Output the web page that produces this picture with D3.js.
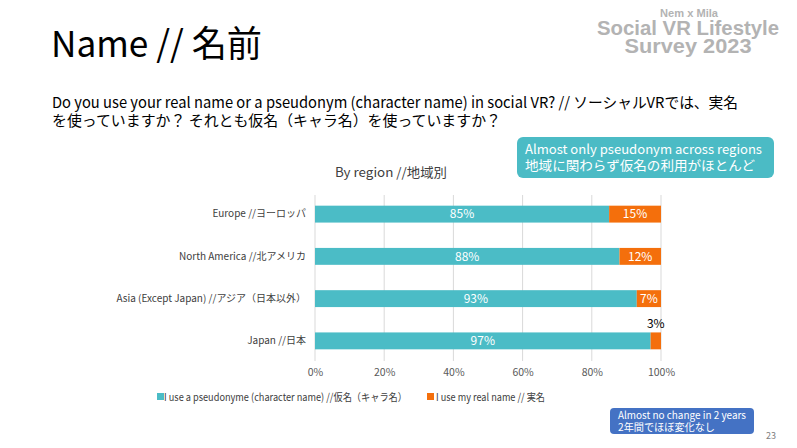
<!DOCTYPE html>
<html><head><meta charset="utf-8">
<script src="https://cdn.jsdelivr.net/npm/d3@7"></script>
<style>
html,body{margin:0;padding:0;background:#fff;}
svg{display:block;}
text{font-family:"Noto Sans CJK JP","Noto Sans",sans-serif;}
text.logo{font-family:"Liberation Sans","DejaVu Sans",sans-serif;font-weight:bold;}
</style></head>
<body>
<svg id="c" width="797" height="448"></svg>
<script>
const categories = ["Europe //ヨーロッパ","North America //北アメリカ","Asia (Except Japan) //アジア（日本以外）","Japan //日本"];
const pseudonym = [85, 88, 93, 97];
const realName = [15, 12, 7, 3];
const seriesNames = ["I use a pseudonyme (character name) //仮名（キャラ名）","I use my real name // 実名"];
const xTicks = [0, 20, 40, 60, 80, 100];
const colors = ["#4BBCC6", "#F46F0C"];

const svg = d3.select("#c");

// Logo
const logo = svg.append("g").attr("fill","#b3b3b3").attr("text-anchor","middle");
logo.append("text").attr("class","logo").attr("x",689).attr("y",17).attr("font-size",11).attr("textLength",58).attr("lengthAdjust","spacingAndGlyphs").text("Nem x Mila");
logo.append("text").attr("class","logo").attr("x",688).attr("y",35).attr("font-size",20).attr("textLength",182).attr("lengthAdjust","spacingAndGlyphs").text("Social VR Lifestyle");
logo.append("text").attr("class","logo").attr("x",688).attr("y",53).attr("font-size",20).attr("textLength",127).attr("lengthAdjust","spacingAndGlyphs").text("Survey 2023");

// Title
svg.append("text").attr("x",51).attr("y",57).attr("font-size",36).attr("fill","#000")
  .attr("textLength",211).attr("lengthAdjust","spacingAndGlyphs").text("Name // 名前");

// Question
svg.append("text").attr("x",52).attr("y",108).attr("font-size",15).attr("fill","#000")
  .attr("textLength",686).attr("lengthAdjust","spacingAndGlyphs")
  .text("Do you use your real name or a pseudonym (character name) in social VR? // ソーシャルVRでは、実名");
svg.append("text").attr("x",52).attr("y",126).attr("font-size",15).attr("fill","#000")
  .attr("textLength",449).attr("lengthAdjust","spacingAndGlyphs")
  .text("を使っていますか？ それとも仮名（キャラ名）を使っていますか？");

// Subtitle
svg.append("text").attr("x",335).attr("y",177).attr("font-size",13).attr("fill","#404040")
  .attr("textLength",112).attr("lengthAdjust","spacingAndGlyphs").text("By region //地域別");

// Callout teal
svg.append("rect").attr("x",517).attr("y",137).attr("width",257).attr("height",41).attr("rx",6).attr("fill","#4BBBC5");
svg.append("text").attr("x",525).attr("y",154).attr("font-size",13).attr("fill","#fff")
  .attr("textLength",237).attr("lengthAdjust","spacingAndGlyphs").text("Almost only pseudonym across regions");
svg.append("text").attr("x",525).attr("y",170).attr("font-size",13).attr("fill","#fff")
  .attr("textLength",230).attr("lengthAdjust","spacingAndGlyphs").text("地域に関わらず仮名の利用がほとんど");

// Chart
const x = d3.scaleLinear().domain([0,100]).range([315,661]);
const y = d3.scaleBand().domain(categories).range([193,362]).paddingInner(0.6).paddingOuter(0.3);

svg.append("g").selectAll("line").data(xTicks).join("line")
  .attr("x1",d=>x(d)).attr("x2",d=>x(d)).attr("y1",195).attr("y2",361)
  .attr("stroke","#d9d9d9").attr("stroke-width",1);

const xAxis = svg.append("g").attr("transform","translate(0,369)")
  .call(d3.axisBottom(x).tickValues(xTicks).tickFormat(d=>d+"%").tickSize(0).tickPadding(0));
xAxis.select(".domain").remove();
xAxis.selectAll("text").attr("font-size",10.5).attr("fill","#595959").attr("dy","0.71em")
  .style("font-family","'Noto Sans CJK JP',sans-serif");

const yAxis = svg.append("g").attr("transform","translate(306,0)")
  .call(d3.axisLeft(y).tickSize(0).tickPadding(0));
yAxis.select(".domain").remove();
yAxis.selectAll("text").attr("font-size",10).attr("fill","#404040")
  .style("font-family","'Noto Sans CJK JP',sans-serif");

const rows = categories.map((c,i)=>({c, a:pseudonym[i], b:realName[i]}));
const g = svg.append("g");
g.selectAll("rect.a").data(rows).join("rect").attr("class","a")
  .attr("x",x(0)).attr("y",d=>y(d.c)).attr("width",d=>x(d.a)-x(0)).attr("height",y.bandwidth()).attr("fill",colors[0]);
g.selectAll("rect.b").data(rows).join("rect").attr("class","b")
  .attr("x",d=>x(d.a)).attr("y",d=>y(d.c)).attr("width",d=>x(d.a+d.b)-x(d.a)).attr("height",y.bandwidth()).attr("fill",colors[1]);

g.selectAll("text.la").data(rows).join("text").attr("class","la")
  .attr("x",d=>x(d.a/2)).attr("y",d=>y(d.c)+y.bandwidth()/2).attr("dy","0.36em")
  .attr("text-anchor","middle").attr("font-size",12).attr("fill","#fff").text(d=>d.a+"%");
g.selectAll("text.lb").data(rows).join("text").attr("class","lb")
  .attr("x",d=>x(d.a+d.b/2)).attr("y",d=> d.b>=5 ? y(d.c)+y.bandwidth()/2 : y(d.c)-9)
  .attr("dy","0.36em").attr("text-anchor","middle").attr("font-size",12)
  .attr("fill",d=> d.b>=5 ? "#fff" : "#000").text(d=>d.b+"%");

// Legend
const leg = svg.append("g");
const legX = [157, 427];
seriesNames.forEach((s,i)=>{
  leg.append("rect").attr("x",legX[i]).attr("y",393).attr("width",7).attr("height",7).attr("fill",colors[i]);
  leg.append("text").attr("x",legX[i] + (i===0 ? 7 : 9)).attr("y",397).attr("dy","0.36em").attr("font-size",10.5).attr("fill","#404040")
    .attr("textLength", i===0 ? 243 : 109).attr("lengthAdjust","spacingAndGlyphs").text(s);
});

// Blue callout
svg.append("rect").attr("x",610).attr("y",408).attr("width",144).attr("height",26).attr("rx",4).attr("fill","#4472C4");
svg.append("text").attr("x",618).attr("y",419).attr("font-size",10.5).attr("fill","#fff")
  .attr("textLength",128).attr("lengthAdjust","spacingAndGlyphs").text("Almost no change in 2 years");
svg.append("text").attr("x",618).attr("y",430.5).attr("font-size",10.5).attr("fill","#fff")
  .attr("textLength",97).attr("lengthAdjust","spacingAndGlyphs").text("2年間でほぼ変化なし");

// page number
svg.append("text").attr("x",776).attr("y",439).attr("text-anchor","end").attr("font-size",9).attr("fill","#808080").text("23");
</script>
</body></html>
